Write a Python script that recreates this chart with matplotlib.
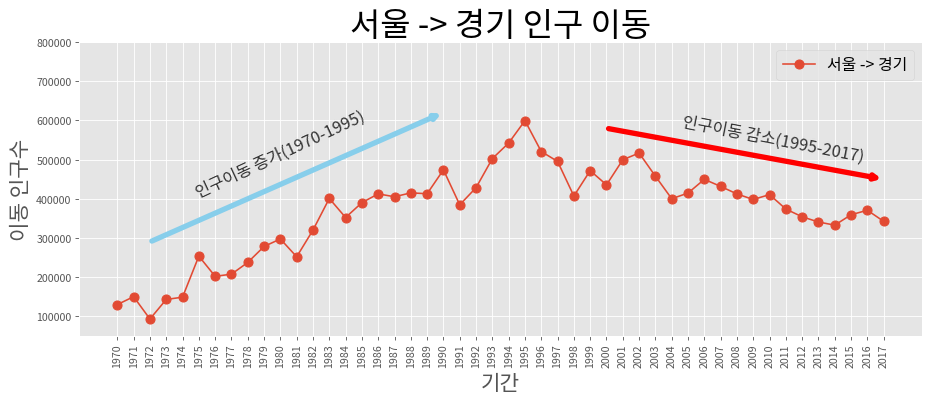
import matplotlib.pyplot as plt

# 서울 -> 경기 인구 이동 (1970-2017)
years = [str(y) for y in range(1970, 2018)]
moves = [130149, 150313, 93333, 143234, 149045, 253705, 202276, 207722,
         237684, 278411, 297539, 252073, 320174, 400875, 352238, 390265,
         412535, 405220, 415174, 412933, 473889, 384714, 428344, 502584,
         542204, 599411, 520566, 495454, 407050, 471841, 435573, 499575,
         516765, 457656, 400206, 414621, 449632, 431637, 412408, 398282,
         410735, 373771, 354135, 340801, 332785, 359337, 370760, 342433]

plt.style.use('ggplot')
plt.rcParams['font.family'] = ['Noto Sans CJK KR', 'DejaVu Sans']
plt.rcParams['axes.unicode_minus'] = False

dpi = 76.6
fig = plt.figure(figsize=(936 / dpi, 398 / dpi), dpi=dpi)
ax = fig.add_axes([79 / 936, 1 - 337 / 398, (922 - 79) / 936, (337 - 43) / 398])

ax.plot(years, moves, marker='o', markersize=8.5)
plt.xticks(rotation='vertical')

ax.set_title('서울 -> 경기 인구 이동', size=31)
ax.set_xlabel('기간', size=20)
ax.set_ylabel('이동 인구수', size=20)
ax.legend(labels=['서울 -> 경기'], loc='best', fontsize=15)
ax.set_ylim(50000, 800000)

# 증가 / 감소 추세 화살표
ax.annotate('', xy=(20, 620000), xytext=(2, 290000), xycoords='data',
            arrowprops=dict(arrowstyle='->', color='skyblue', lw=5))
ax.annotate('', xy=(47, 450000), xytext=(30, 580000), xycoords='data',
            arrowprops=dict(arrowstyle='->', color='red', lw=5))

ax.annotate('인구이동 증가(1970-1995)', xy=(10, 405000), rotation=25,
            va='baseline', ha='center', fontsize=15.5, color='#333333')
ax.annotate('인구이동 감소(1995-2017)', xy=(40.2, 496000), rotation=-11,
            va='baseline', ha='center', fontsize=15.5, color='#333333')

fig.savefig('out.png', dpi=dpi)
